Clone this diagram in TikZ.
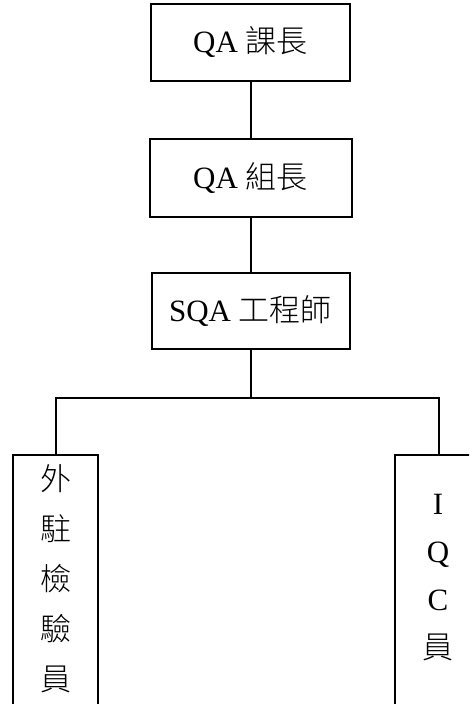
\documentclass[tikz,border=0pt]{standalone}
\usepackage{fontspec}
\setmainfont{Liberation Serif}
\newfontfamily\cjk{Noto Sans CJK TC}[UprightFont={* Light}]
\begin{document}
\begin{tikzpicture}[x=1pt,y=-1pt,
  box/.style={draw, line width=2pt, inner sep=0pt},
  lbl/.style={font=\fontsize{31}{50}\selectfont, inner sep=0pt},
  lblc/.style={font=\fontsize{31}{50}\selectfont\cjk, inner sep=0pt},
  lblr/.style={font=\fontsize{31}{48}\selectfont, inner sep=0pt},
  link/.style={line width=2pt}]
\useasboundingbox (0,0) rectangle (469,704);
\begin{scope}
\clip (0,0) rectangle (469,704);
\node[box, lbl, minimum width=199pt, minimum height=77pt] (a) at (250.5,42.5) {QA {\cjk 課長}};
\node[box, lbl, minimum width=202pt, minimum height=78pt] (b) at (250.5,178) {QA {\cjk 組長}};
\node[box, lbl, minimum width=198pt, minimum height=76pt] (c) at (250.5,311) {SQA {\cjk 工程師}};
\node[box, minimum width=85pt, minimum height=260pt] (l) at (55.5,585) {};
\node[box, minimum width=87pt, minimum height=260pt] (r) at (438.5,585) {};
\node[lblc, align=center, anchor=north] (lt) at (55.5,464) {外\\駐\\檢\\驗\\員};
\node[lblr, align=center, anchor=north] (rt) at (438,494) {I\\Q\\C\\\cjk 員};
\coordinate (j) at (250.5,398);
\coordinate (hl) at (l.north |- j);
\coordinate (hr) at (r.north |- j);
\draw[link] (a) -- (b);
\draw[link] (b) -- (c);
\draw[link] (c) -- (j);
\draw[link] (l.north) -- (hl) -- (hr) -- (r.north);
\end{scope}
\end{tikzpicture}
\end{document}
